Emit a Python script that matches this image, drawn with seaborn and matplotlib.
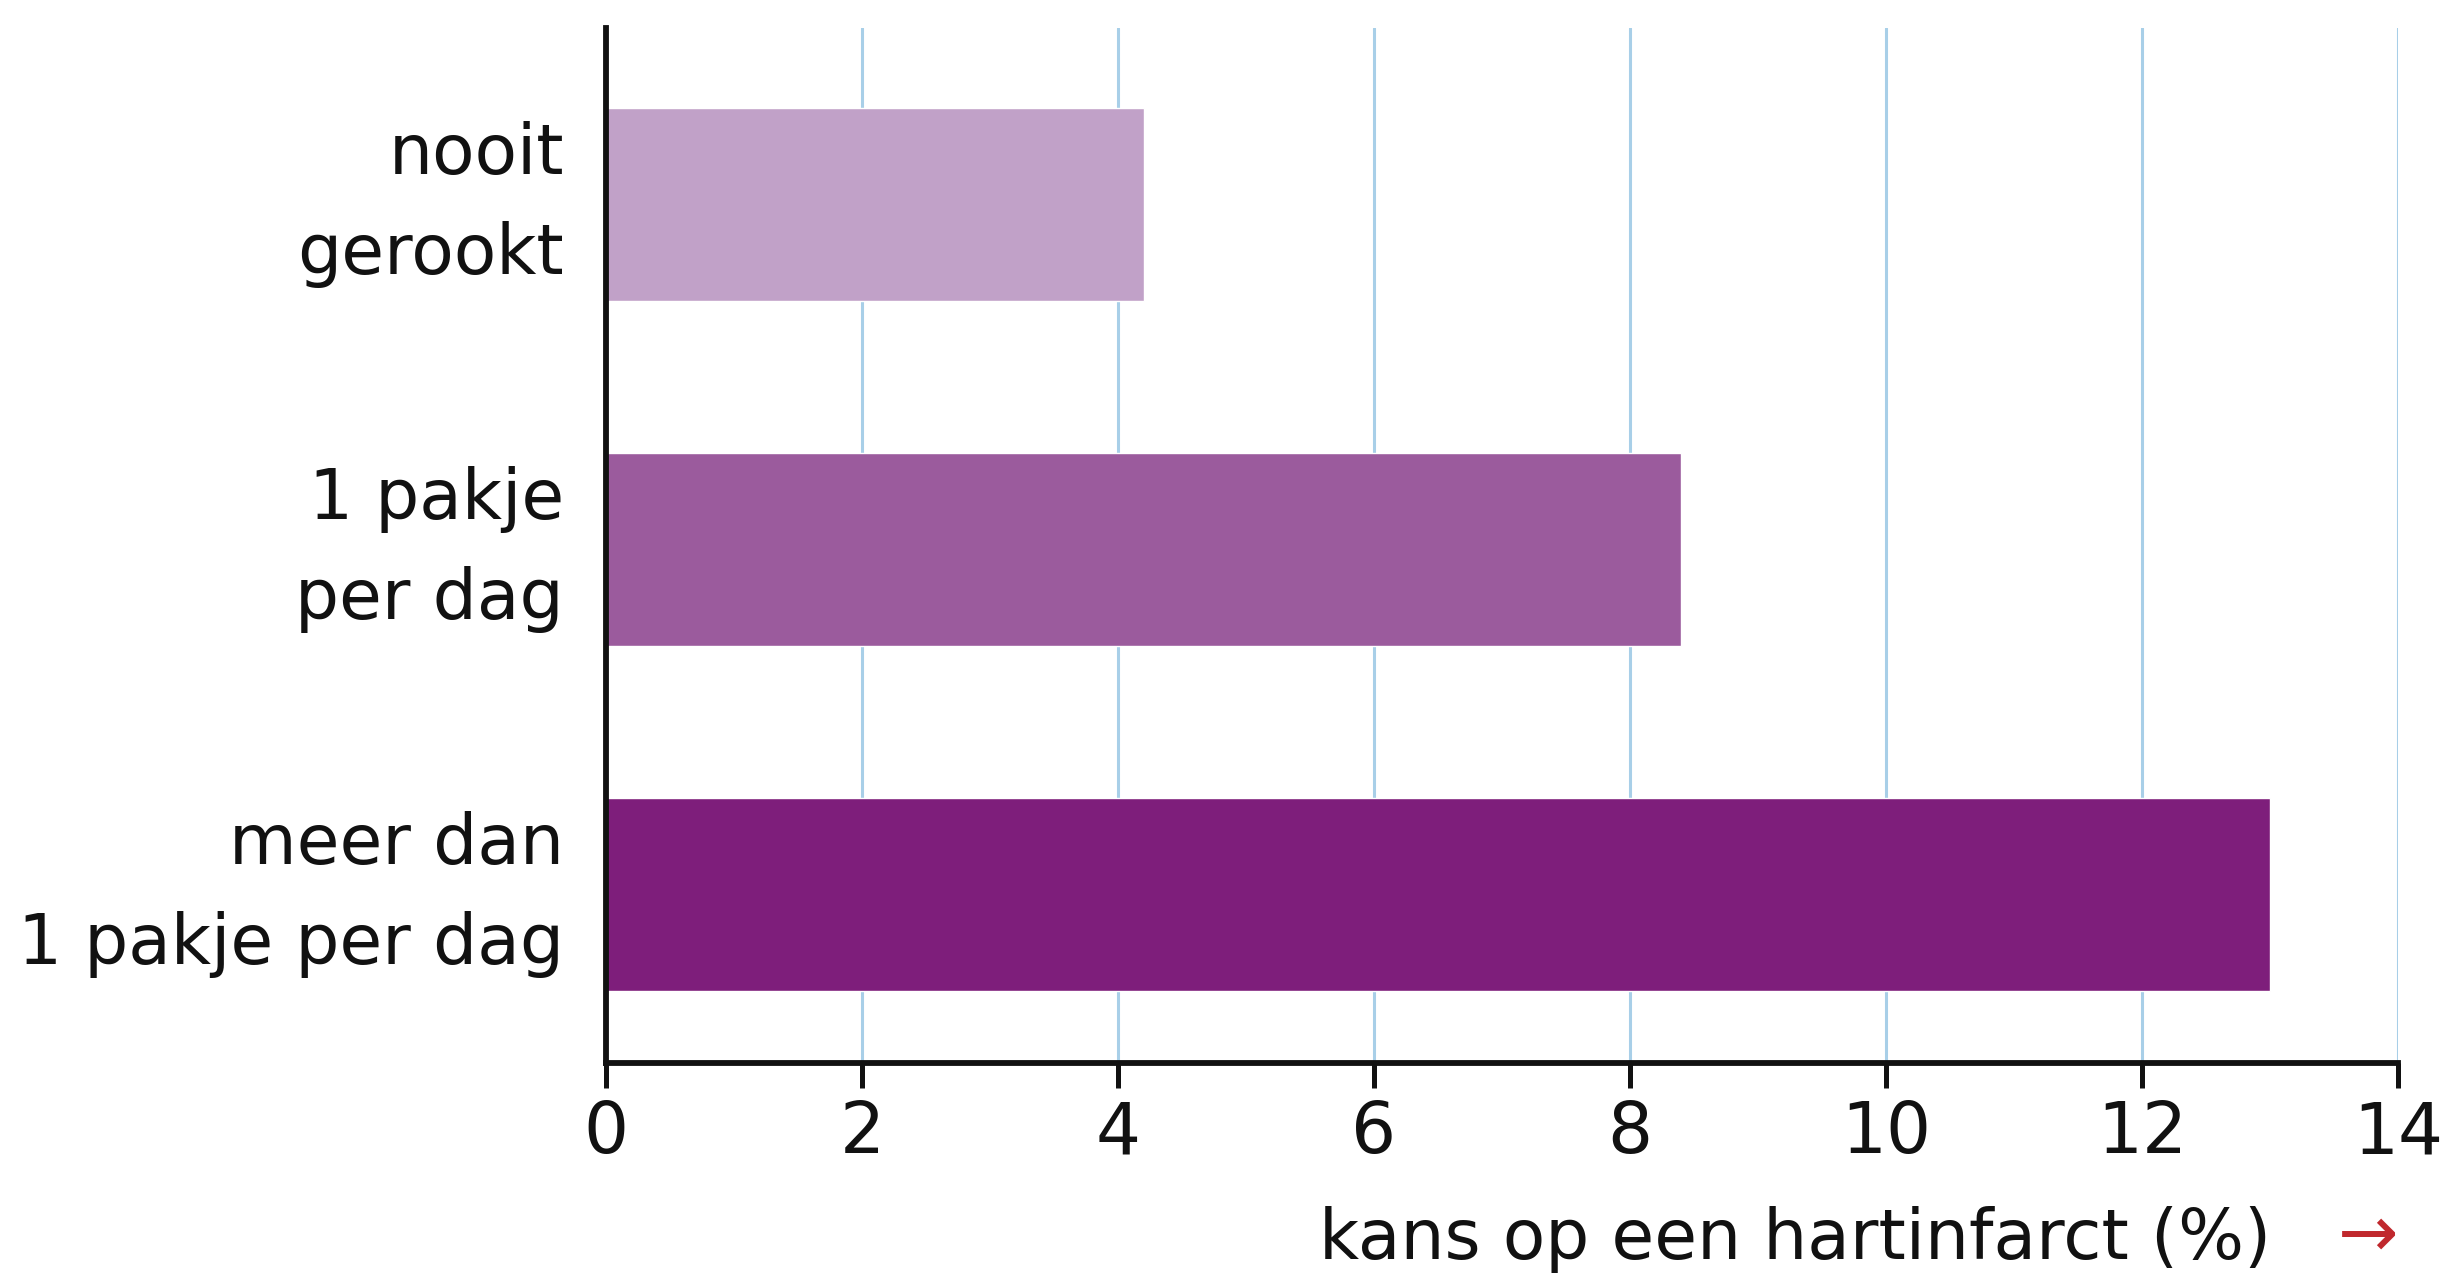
import pandas as pd
import matplotlib.pyplot as plt
import seaborn as sns

# data
categorieen = ["nooit\ngerookt", "1 pakje\nper dag", "meer dan\n1 pakje per dag"]
kans = [4.2, 8.4, 13.0]
kleuren = ["#C1A1C8", "#9B5B9D", "#7E1E7B"]
x_ticks = [0, 2, 4, 6, 8, 10, 12, 14]

sns.set_style("white")
plt.rcParams['font.family'] = ['DejaVu Sans Condensed', 'DejaVu Sans']

df = pd.DataFrame({'categorie': categorieen, 'kans': kans})

fig = plt.figure(figsize=(24.43, 12.81), dpi=100)
ax = fig.add_axes([0.248, 0.170, 0.7336, 0.808])

# grid lines behind the bars
for t in x_ticks[1:]:
    ax.axvline(t, color="#A8CFE8", lw=2.2, zorder=0)

sns.barplot(data=df, y='categorie', x='kans', hue='categorie', palette=kleuren,
            orient='h', width=0.56, saturation=1, legend=False, ax=ax, zorder=2)

ax.set_xlim(0, 14)
ax.set_ylim(2.49, -0.51)
ax.set_xticks(x_ticks)
ax.set_xticklabels([str(t) for t in x_ticks], fontsize=51, color='#111111')
ax.set_yticks(range(len(categorieen)))
ax.set_yticklabels(categorieen, fontsize=50, linespacing=1.62, color='#111111', va='center')
ax.set_ylabel("")
ax.set_xlabel("")

for s in ['top', 'right']:
    ax.spines[s].set_visible(False)
for s in ['left', 'bottom']:
    ax.spines[s].set_linewidth(4.2)
    ax.spines[s].set_color('#111111')
    ax.spines[s].set_zorder(3)

ax.tick_params(axis='x', bottom=True, direction='out', length=18, width=3.6,
               color='#111111', pad=8)
ax.tick_params(axis='y', left=False, length=0, pad=30)

# as-label met rode pijl
ax.text(0.929, -0.17, "kans op een hartinfarct (%)", transform=ax.transAxes,
        ha='right', va='center', fontsize=50, color='#111111')
ax.text(1.0, -0.168, "\u2192", transform=ax.transAxes,
        ha='right', va='center', fontsize=52, color='#C0282D')

plt.savefig('out.png', dpi=100)
